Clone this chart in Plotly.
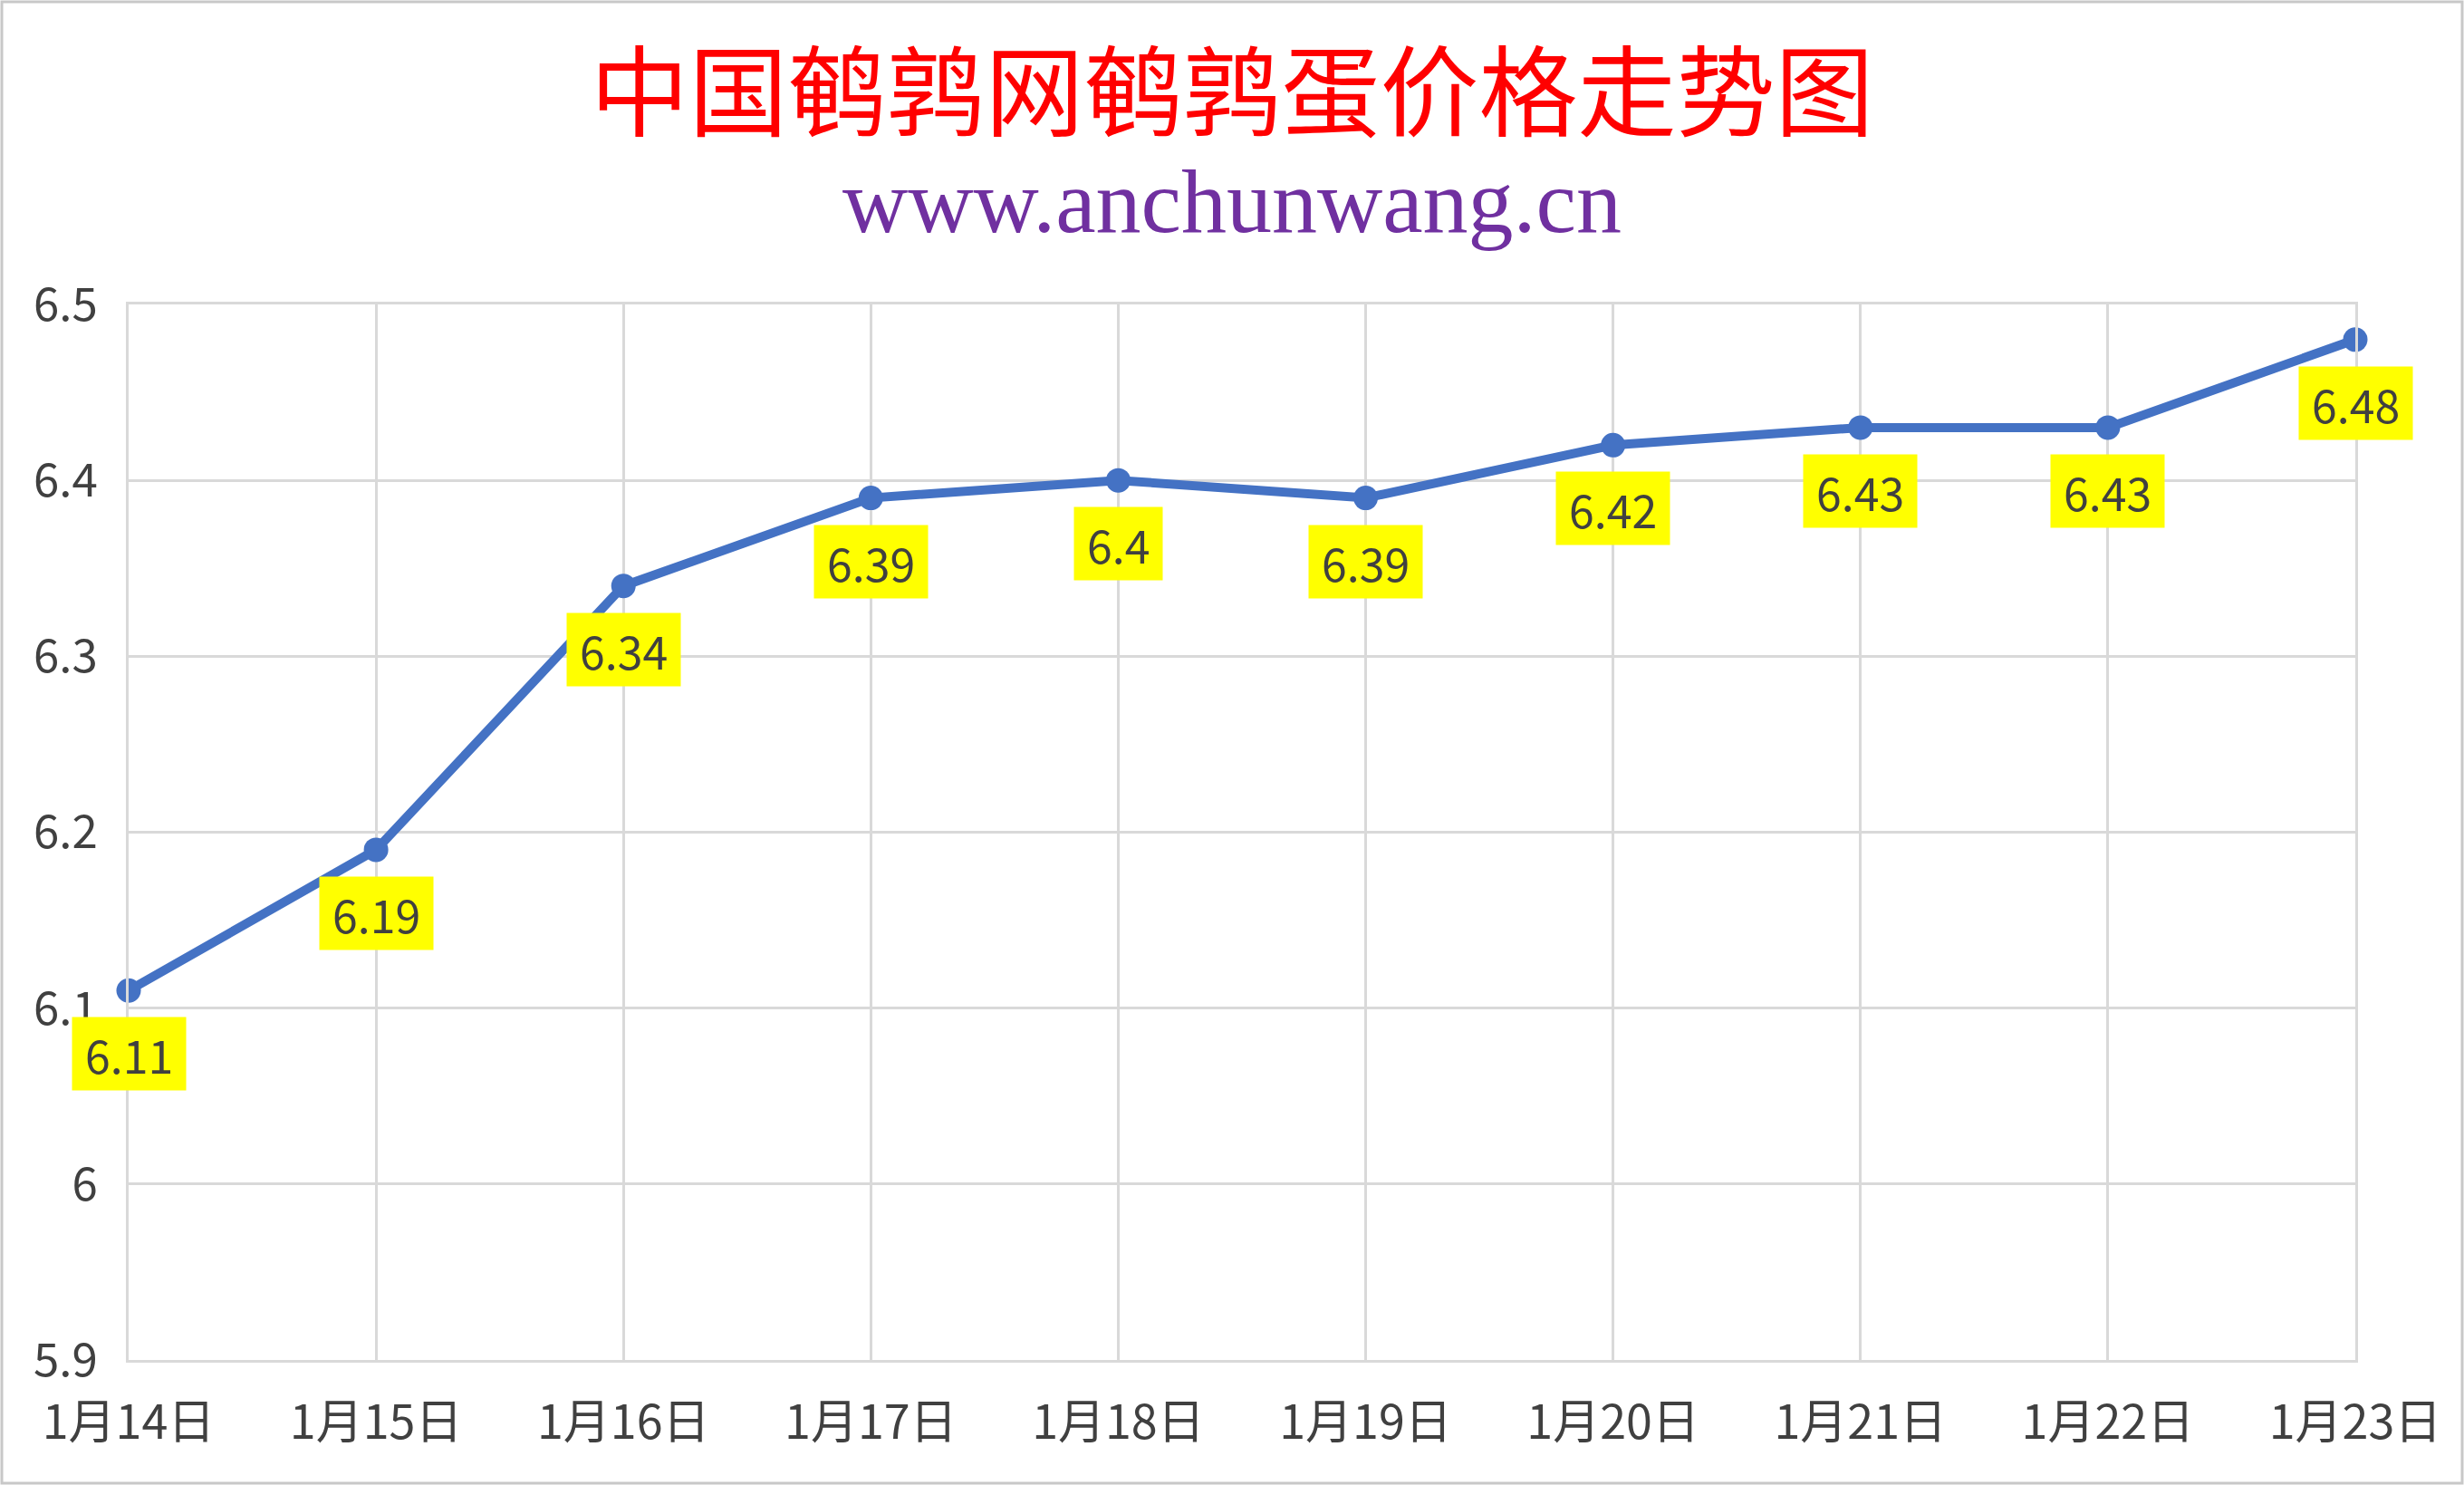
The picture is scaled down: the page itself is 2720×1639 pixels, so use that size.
import plotly.graph_objects as go

dates = ["1月14日", "1月15日", "1月16日", "1月17日", "1月18日",
         "1月19日", "1月20日", "1月21日", "1月22日", "1月23日"]
prices = [6.11, 6.19, 6.34, 6.39, 6.4, 6.39, 6.42, 6.43, 6.43, 6.48]
label_texts = ["6.11", "6.19", "6.34", "6.39", "6.4", "6.39", "6.42", "6.43", "6.43", "6.48"]
y_ticks = [5.9, 6.0, 6.1, 6.2, 6.3, 6.4, 6.5]
y_tick_labels = ["5.9", "6", "6.1", "6.2", "6.3", "6.4", "6.5"]

title_text = "中国鹌鹑网鹌鹑蛋价格走势图"
subtitle_text = "www.anchunwang.cn"

W, H = 2720, 1639
ML, MR, MT, MB = 142, 120, 336, 138
PW = W - ML - MR
PH = H - MT - MB

FONT = "Noto Sans CJK SC, Noto Sans, sans-serif"
TXT = "#404040"
GRID = "#D9D9D9"

fig = go.Figure()
fig.add_trace(go.Scatter(
    x=dates, y=prices, mode="lines+markers",
    line=dict(color="#4472C4", width=10),
    marker=dict(color="#4472C4", size=27),
    cliponaxis=False, showlegend=False, hoverinfo="x+y",
))

annotations = []
for d, v, t in zip(dates, prices, label_texts):
    annotations.append(dict(
        x=d, y=v, xref="x", yref="y", text=t, showarrow=False,
        yshift=-70, xanchor="center", yanchor="middle",
        bgcolor="#FFFF00", borderpad=14, height=52,
        font=dict(family=FONT, size=50, color=TXT),
    ))

annotations.append(dict(
    x=(W / 2 - ML) / PW, y=(H - 222 - MB) / PH, xref="paper", yref="paper",
    text=subtitle_text, showarrow=False, xanchor="center", yanchor="middle",
    font=dict(family="Liberation Serif, Times New Roman, serif", size=100, color="#7030A0"),
))

fig.update_layout(
    width=W, height=H,
    margin=dict(l=ML, r=MR, t=MT, b=MB, pad=0),
    paper_bgcolor="white", plot_bgcolor="white",
    title=dict(text=title_text, x=0.5, xref="container", xanchor="center",
               y=1 - 104 / H, yref="container", yanchor="middle",
               font=dict(family="Noto Sans CJK SC", size=109, color="#FF0000")),
    annotations=annotations,
    shapes=[dict(type="rect", xref="paper", yref="paper",
                 x0=(2 - ML) / PW, x1=(W - 2 - ML) / PW,
                 y0=(2 - MB) / PH, y1=(H - 2 - MB) / PH,
                 line=dict(color="#C8C8C8", width=3), layer="below")],
    xaxis=dict(
        type="category", range=[0, len(dates) - 1],
        showgrid=True, gridcolor=GRID, gridwidth=3,
        showline=True, linecolor=GRID, linewidth=3, mirror=True,
        ticks="", ticklabelstandoff=22,
        tickfont=dict(family=FONT, size=52, color=TXT),
        zeroline=False, fixedrange=True,
    ),
    yaxis=dict(
        range=[5.9, 6.5], tickvals=y_ticks, ticktext=y_tick_labels,
        showgrid=True, gridcolor=GRID, gridwidth=3,
        showline=True, linecolor=GRID, linewidth=3, mirror=True,
        ticks="", ticklabelstandoff=21,
        tickfont=dict(family=FONT, size=51, color=TXT),
        zeroline=False, fixedrange=True,
    ),
)

fig.write_html(
    "out.html",
    config={"displayModeBar": False},
    post_script="document.body.style.margin='0';document.body.style.overflow='hidden';",
)
